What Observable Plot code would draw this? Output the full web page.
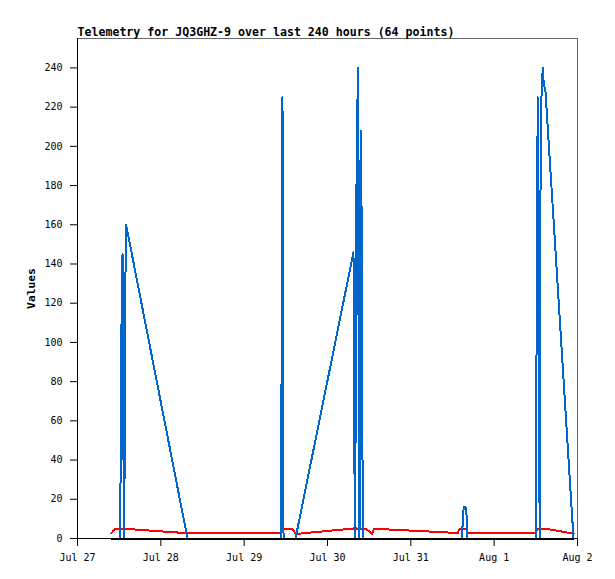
<!DOCTYPE html>
<html>
<head>
<meta charset="utf-8">
<script src="https://cdn.jsdelivr.net/npm/d3@7"></script>
<script src="https://cdn.jsdelivr.net/npm/@observablehq/plot@0.6"></script>
<style>
  html, body { margin: 0; padding: 0; background: #fff; }
</style>
</head>
<body>
<div id="chart"></div>
<script>
const title = "Telemetry for JQ3GHZ-9 over last 240 hours (64 points)";
const yLabel = "Values";

const times = [
  "2024-07-27T09:47Z","2024-07-27T10:22Z","2024-07-27T10:57Z","2024-07-27T12:14Z",
  "2024-07-27T12:26Z","2024-07-27T12:40Z","2024-07-27T12:58Z","2024-07-27T13:15Z",
  "2024-07-27T13:29Z","2024-07-27T13:43Z","2024-07-27T14:00Z","2024-07-28T07:41Z",
  "2024-07-28T14:18Z","2024-07-28T21:30Z","2024-07-29T04:08Z","2024-07-29T10:37Z",
  "2024-07-29T10:49Z","2024-07-29T11:02Z","2024-07-29T11:20Z","2024-07-29T14:04Z",
  "2024-07-29T14:47Z","2024-07-30T07:29Z","2024-07-30T07:40Z","2024-07-30T07:52Z",
  "2024-07-30T08:07Z","2024-07-30T08:21Z","2024-07-30T08:45Z","2024-07-30T09:01Z",
  "2024-07-30T09:13Z","2024-07-30T09:23Z","2024-07-30T09:39Z","2024-07-30T09:51Z",
  "2024-07-30T10:01Z","2024-07-30T10:15Z","2024-07-30T11:14Z","2024-07-30T12:06Z",
  "2024-07-30T12:49Z","2024-07-30T13:23Z","2024-07-30T15:16Z","2024-07-30T21:01Z",
  "2024-07-31T13:35Z","2024-07-31T13:52Z","2024-07-31T14:18Z","2024-07-31T14:44Z",
  "2024-07-31T14:56Z","2024-07-31T15:14Z","2024-07-31T15:45Z","2024-07-31T16:02Z",
  "2024-07-31T16:19Z","2024-07-31T20:04Z","2024-08-01T01:49Z","2024-08-01T07:35Z",
  "2024-08-01T11:59Z","2024-08-01T12:08Z","2024-08-01T12:20Z","2024-08-01T12:34Z",
  "2024-08-01T12:46Z","2024-08-01T12:56Z","2024-08-01T13:07Z","2024-08-01T13:24Z",
  "2024-08-01T13:59Z","2024-08-01T14:17Z","2024-08-01T14:47Z","2024-08-01T22:51Z"
];

const blueValues = [
  0, 0, 0, 0, 36, 108, 145, 40, 0, 120, 160, 0,
  0, 0, 0, 0, 112, 225, 0, 0, 0, 146, 77, 0,
  60, 180, 240, 55, 0, 180, 208, 156, 57, 0, 0, 0,
  0, 0, 0, 0, 0, 0, 0, 0, 8, 16, 16, 12,
  0, 0, 0, 0, 0, 57, 168, 225, 104, 57, 0, 216,
  240, 232, 228, 0
];

const redValues = [
  2.7, 4.0, 4.9, 4.9, 5.0, 4.9, 5.0, 4.9, 4.9, 5.0, 4.9, 2.7,
  2.9, 2.9, 2.9, 2.9, 4.6, 4.7, 4.6, 4.6, 2.3, 5.1, 5.0, 5.1,
  5.0, 5.1, 5.0, 5.0, 5.1, 5.0, 4.9, 5.0, 4.8, 5.0, 4.6, 3.6,
  2.4, 4.8, 4.8, 4.3, 2.8, 4.5, 5.0, 4.9, 4.8, 4.9, 4.8, 4.6,
  3.0, 2.9, 2.9, 2.9, 3.0, 3.8, 4.6, 5.0, 5.0, 5.0, 5.0, 5.1,
  5.1, 5.0, 5.0, 2.5
];

const blackValues = [
  0, 0, 0, 0, 0, 0, 0, 0, 0, 0, 0, 0,
  0, 0, 0, 0, 0, 0, 0, 0, 0, 0, 0, 0,
  0, 0, 0, 0, 0, 0, 0, 0, 0, 0, 0, 0,
  0, 0, 0, 0, 0, 0, 0, 0, 0, 0, 0, 0,
  0, 0, 0, 0, 0, 0, 0, 0, 0, 0, 0, 0,
  0, 0, 0, 0
];

const xTicks = ["2024-07-27","2024-07-28","2024-07-29","2024-07-30","2024-07-31","2024-08-01","2024-08-02"];
const yTicks = [0, 20, 40, 60, 80, 100, 120, 140, 160, 180, 200, 220, 240];
const xDomain = ["2024-07-27", "2024-08-02"];
const yDomain = [0, 255];

const rows = times.map((t, i) => ({
  time: new Date(t),
  blue: blueValues[i],
  red: redValues[i],
  black: blackValues[i]
}));
const xTickDates = xTicks.map(d => new Date(d + "T00:00Z"));
const xDom = xDomain.map(d => new Date(d + "T00:00Z"));

const mono = "'DejaVu Sans Mono', 'Liberation Mono', monospace";

const chart = Plot.plot({
  width: 615,
  height: 579,
  marginLeft: 77,
  marginRight: 38,
  marginTop: 38,
  marginBottom: 41,
  style: { fontFamily: mono, fontSize: "10px", background: "#fff", color: "#000" },
  x: { type: "utc", domain: xDom },
  y: { domain: yDomain },
  marks: [
    Plot.frame({ stroke: "#666", strokeWidth: 1 }),
    Plot.line(rows, { x: "time", y: "red", stroke: "#ff0000", strokeWidth: 2, shapeRendering: "crispEdges" }),
    Plot.line(rows, { x: "time", y: "blue", stroke: "#0066cc", strokeWidth: 2, shapeRendering: "crispEdges" }),
    Plot.line(rows, { x: "time", y: "black", stroke: "#000", strokeWidth: 2, shapeRendering: "crispEdges" }),
    Plot.ruleY([yDomain[0]], { stroke: "#000", strokeWidth: 1 }),
    Plot.ruleX([xDom[0]], { stroke: "#000", strokeWidth: 1 }),
    Plot.axisX({ ticks: xTickDates, tickFormat: d3.utcFormat("%b %-d"), tickSize: 8, tickPadding: 7, label: null, fontSize: 10 }),
    Plot.axisY({ ticks: yTicks, tickSize: 7, tickPadding: 8, label: null, fontSize: 10 }),
    Plot.text([title], { text: d => d, frameAnchor: "top-left", textAnchor: "start", lineAnchor: "bottom", dy: -2.5, fontWeight: "bold", fontSize: 11.6, fill: "#000" }),
    Plot.text([yLabel], { text: d => d, frameAnchor: "left", rotate: -90, dx: -46.5, textAnchor: "middle", lineAnchor: "middle", fontWeight: "bold", fontSize: 11.3, fill: "#000" })
  ]
});
document.getElementById("chart").appendChild(chart);
</script>
</body>
</html>
